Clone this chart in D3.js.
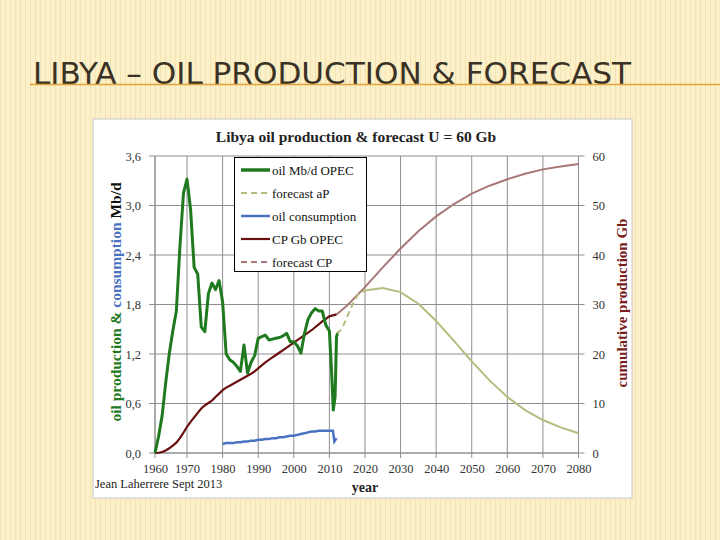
<!DOCTYPE html>
<html><head><meta charset="utf-8">
<script src="https://cdn.jsdelivr.net/npm/d3@7"></script>
<style>html,body{margin:0;padding:0;background:#fcf1cb;}svg{display:block;}</style>
</head><body>
<svg id="c" width="720" height="540"></svg>
<script>
// ---- data ----
const prodYears = [1961,1962,1963,1964,1965,1966,1967,1968,1969,1970,1971,1972,1973,1974,1975,1976,1977,1978,1979,1980,1981,1982,1983,1984,1985,1986,1987,1988,1989,1990,1991,1992,1993,1994,1995,1996,1997,1998,1999,2000,2001,2002,2003,2004,2005,2006,2007,2008,2009,2010,2010.6,2011.1,2011.6,2012,2012.3];
const prodValues = [0.0,0.20,0.45,0.85,1.20,1.48,1.72,2.50,3.15,3.32,2.95,2.25,2.17,1.53,1.47,1.93,2.06,1.98,2.09,1.83,1.20,1.13,1.10,1.05,0.99,1.31,0.97,1.10,1.18,1.39,1.41,1.43,1.37,1.38,1.39,1.40,1.42,1.45,1.35,1.35,1.30,1.21,1.45,1.62,1.70,1.75,1.72,1.72,1.55,1.48,1.00,0.52,0.68,1.41,1.45];

const fcYears = [2012,2013,2014,2015,2016,2017,2018,2019,2020,2025,2030,2035,2040,2045,2050,2055,2060,2065,2070,2075,2080];
const fcValues = [1.45,1.48,1.55,1.65,1.75,1.84,1.92,1.95,1.97,2.00,1.95,1.81,1.60,1.36,1.11,0.88,0.68,0.52,0.40,0.31,0.24];

const consYears = [1980,1981,1982,1983,1984,1985,1986,1987,1988,1989,1990,1991,1992,1993,1994,1995,1996,1997,1998,1999,2000,2001,2002,2003,2004,2005,2006,2007,2008,2009,2010,2011,2011.4,2012];
const consValues = [0.11,0.12,0.12,0.12,0.13,0.13,0.14,0.14,0.15,0.15,0.16,0.16,0.17,0.17,0.18,0.18,0.19,0.19,0.20,0.21,0.21,0.22,0.23,0.24,0.25,0.26,0.26,0.27,0.27,0.27,0.27,0.27,0.14,0.18];

const cpYears = [1961,1962,1963,1964,1965,1966,1967,1968,1969,1970,1971,1972,1973,1974,1975,1976,1977,1978,1979,1980,1981,1982,1983,1984,1985,1986,1987,1988,1989,1990,1991,1992,1993,1994,1995,1996,1997,1998,1999,2000,2001,2002,2003,2004,2005,2006,2007,2008,2009,2010,2011,2012];
const cpValues = [0,0.05,0.2,0.5,0.95,1.5,2.1,3.0,4.1,5.3,6.3,7.2,8.1,9.0,9.6,10.1,10.6,11.3,12.0,12.7,13.2,13.6,14.0,14.4,14.8,15.2,15.6,16.0,16.5,17.1,17.7,18.3,18.8,19.3,19.8,20.3,20.8,21.3,21.8,22.3,22.8,23.3,23.8,24.3,24.8,25.4,26.0,26.6,27.1,27.6,27.8,28.0];

const cpFcYears = [2012,2015,2020,2025,2030,2035,2040,2045,2050,2055,2060,2065,2070,2075,2080];
const cpFcValues = [28.0,29.8,33.5,37.5,41.3,44.8,47.8,50.3,52.4,54.0,55.3,56.4,57.3,57.9,58.4];

const xTickYears = [1961,1970,1980,1990,2000,2010,2020,2030,2040,2050,2060,2070,2080];
const xTickLabels = ["1960","1970","1980","1990","2000","2010","2020","2030","2040","2050","2060","2070","2080"];
const leftTicks = [0,0.6,1.2,1.8,2.4,3.0,3.6];
const leftTickLabels = ["0,0","0,6","1,2","1,8","2,4","3,0","3,6"];
const rightTicks = [0,10,20,30,40,50,60];

const legendLabels = ["oil Mb/d OPEC","forecast aP","oil consumption","CP Gb OPEC","forecast CP"];

// ---- drawing ----
const svg = d3.select("#c");
const C = {green:"#1f7a1f", fc:"#b2bd7e", blue:"#4a72c0", red:"#6a0f12", fcCP:"#a87878", grid:"#8f8f8f"};

// background stripes
const defs = svg.append("defs");
const pat = defs.append("pattern").attr("id","stripes").attr("width",5).attr("height",10).attr("patternUnits","userSpaceOnUse");
pat.append("rect").attr("width",5).attr("height",10).attr("fill","#fcf0c8");
pat.append("rect").attr("x",0).attr("width",1).attr("height",10).attr("fill","#f3e2b2");
svg.append("rect").attr("width",720).attr("height",540).attr("fill","url(#stripes)");

// slide title
svg.append("text").attr("x",33).attr("y",84)
  .attr("font-family","'DejaVu Sans Condensed','DejaVu Sans',sans-serif")
  .attr("font-size",30).attr("fill","#3b3226")
  .attr("textLength",598).attr("lengthAdjust","spacingAndGlyphs")
  .text("LIBYA – OIL PRODUCTION & FORECAST");
svg.append("line").attr("x1",30).attr("x2",720).attr("y1",84.5).attr("y2",84.5)
  .attr("stroke","#e3a33a").attr("stroke-width",1.5);

// chart box
svg.append("rect").attr("x",93).attr("y",119).attr("width",539).attr("height",379)
  .attr("fill","#fff").attr("stroke","#c8c8c8").attr("stroke-width",1);

const x = d3.scaleLinear().domain([1961,2080]).range([155,578.5]);
const yL = d3.scaleLinear().domain([0,3.6]).range([453,156]);
const yR = d3.scaleLinear().domain([0,60]).range([453,156]);

const serif = "'Liberation Serif','Times New Roman',serif";

// gridlines
const g = svg.append("g");
g.selectAll("line.v").data(xTickYears).join("line")
  .attr("x1",d=>x(d)).attr("x2",d=>x(d)).attr("y1",yL(3.6)).attr("y2",yL(0)+5)
  .attr("stroke",C.grid).attr("stroke-width",1);
g.selectAll("line.h").data(leftTicks).join("line")
  .attr("x1",x(1961)-6).attr("x2",x(2080)+6).attr("y1",d=>yL(d)).attr("y2",d=>yL(d))
  .attr("stroke",C.grid).attr("stroke-width",1);

// axes via d3 (labels only)
const axB = d3.axisBottom(x).tickValues(xTickYears).tickFormat((d,i)=>xTickLabels[i]).tickSize(0).tickPadding(11);
const axL = d3.axisLeft(yL).tickValues(leftTicks).tickFormat((d,i)=>leftTickLabels[i]).tickSize(0).tickPadding(14);
const axR = d3.axisRight(yR).tickValues(rightTicks).tickSize(0).tickPadding(14);
[[axB,`translate(0,${yL(0)})`],[axL,`translate(${x(1961)},0)`],[axR,`translate(${x(2080)},0)`]].forEach(([a,t])=>{
  const ga = svg.append("g").attr("transform",t).call(a);
  ga.select(".domain").remove();
  ga.selectAll("text").attr("font-family",serif).attr("font-size",12.5).attr("fill","#333");
});
// axis lines
svg.append("line").attr("x1",x(1961)).attr("x2",x(1961)).attr("y1",yL(3.6)).attr("y2",yL(0)).attr("stroke",C.grid);
svg.append("line").attr("x1",x(2080)).attr("x2",x(2080)).attr("y1",yL(3.6)).attr("y2",yL(0)).attr("stroke",C.grid);
svg.append("line").attr("x1",x(1961)).attr("x2",x(2080)).attr("y1",yL(0)).attr("y2",yL(0)).attr("stroke",C.grid);

// lines
const lineL = d3.line().x(d=>x(d[0])).y(d=>yL(d[1]));
const lineR = d3.line().x(d=>x(d[0])).y(d=>yR(d[1]));
const zip = (a,b)=>a.map((v,i)=>[v,b[i]]);

svg.append("path").attr("d",lineR(zip(cpFcYears,cpFcValues))).attr("fill","none").attr("stroke",C.fcCP).attr("stroke-width",2);
const fc = zip(fcYears,fcValues);
const split = fcYears.indexOf(2019);
svg.append("path").attr("d",lineL(fc.slice(0,split+1))).attr("fill","none").attr("stroke",C.fc).attr("stroke-width",2).attr("stroke-dasharray","6,4");
svg.append("path").attr("d",lineL(fc.slice(split))).attr("fill","none").attr("stroke",C.fc).attr("stroke-width",2);
svg.append("path").attr("d",lineR(zip(cpYears,cpValues))).attr("fill","none").attr("stroke",C.red).attr("stroke-width",2.2);
svg.append("path").attr("d",lineL(zip(consYears,consValues))).attr("fill","none").attr("stroke",C.blue).attr("stroke-width",2.5);
svg.append("path").attr("d",lineL(zip(prodYears,prodValues))).attr("fill","none").attr("stroke",C.green).attr("stroke-width",3).attr("stroke-linejoin","round");

// legend
const lg = svg.append("g");
lg.append("rect").attr("x",234.5).attr("y",157.5).attr("width",132).attr("height",114).attr("fill","#fff").attr("stroke","#000").attr("stroke-width",1);
const lstyles = [{c:C.green,w:3.5,d:null},{c:C.fc,w:2,d:"6,4"},{c:C.blue,w:2.5,d:null},{c:C.red,w:2.2,d:null},{c:C.fcCP,w:2,d:"6,4"}];
legendLabels.forEach((t,i)=>{
  const yy = 170 + i*23;
  lg.append("line").attr("x1",241).attr("x2",270).attr("y1",yy).attr("y2",yy)
    .attr("stroke",lstyles[i].c).attr("stroke-width",lstyles[i].w).attr("stroke-dasharray",lstyles[i].d);
  lg.append("text").attr("x",272).attr("y",yy+4.5).attr("font-family",serif).attr("font-size",13).attr("fill","#111").text(t);
});

// titles
svg.append("text").attr("x",356).attr("y",142).attr("text-anchor","middle").attr("font-family",serif)
  .attr("font-weight","bold").attr("font-size",15.5).attr("fill","#222").text("Libya oil production & forecast U = 60 Gb");
svg.append("text").attr("x",365).attr("y",492).attr("text-anchor","middle").attr("font-family",serif)
  .attr("font-weight","bold").attr("font-size",14).attr("fill","#222").text("year");
svg.append("text").attr("x",95).attr("y",488).attr("font-family",serif)
  .attr("font-size",12.5).attr("fill","#222").text("Jean Laherrere Sept 2013");

const lt = svg.append("text").attr("transform","translate(121,302) rotate(-90)").attr("text-anchor","middle")
  .attr("font-family",serif).attr("font-weight","bold").attr("font-size",15.5);
lt.append("tspan").attr("fill",C.green).text("oil production  & ");
lt.append("tspan").attr("fill",C.blue).text("consumption ");
lt.append("tspan").attr("fill","#111").text("Mb/d");

svg.append("text").attr("transform","translate(627,303) rotate(-90)").attr("text-anchor","middle")
  .attr("font-family",serif).attr("font-weight","bold").attr("font-size",15).attr("fill","#7a1c1c")
  .text("cumulative production Gb");
</script>
</body></html>
